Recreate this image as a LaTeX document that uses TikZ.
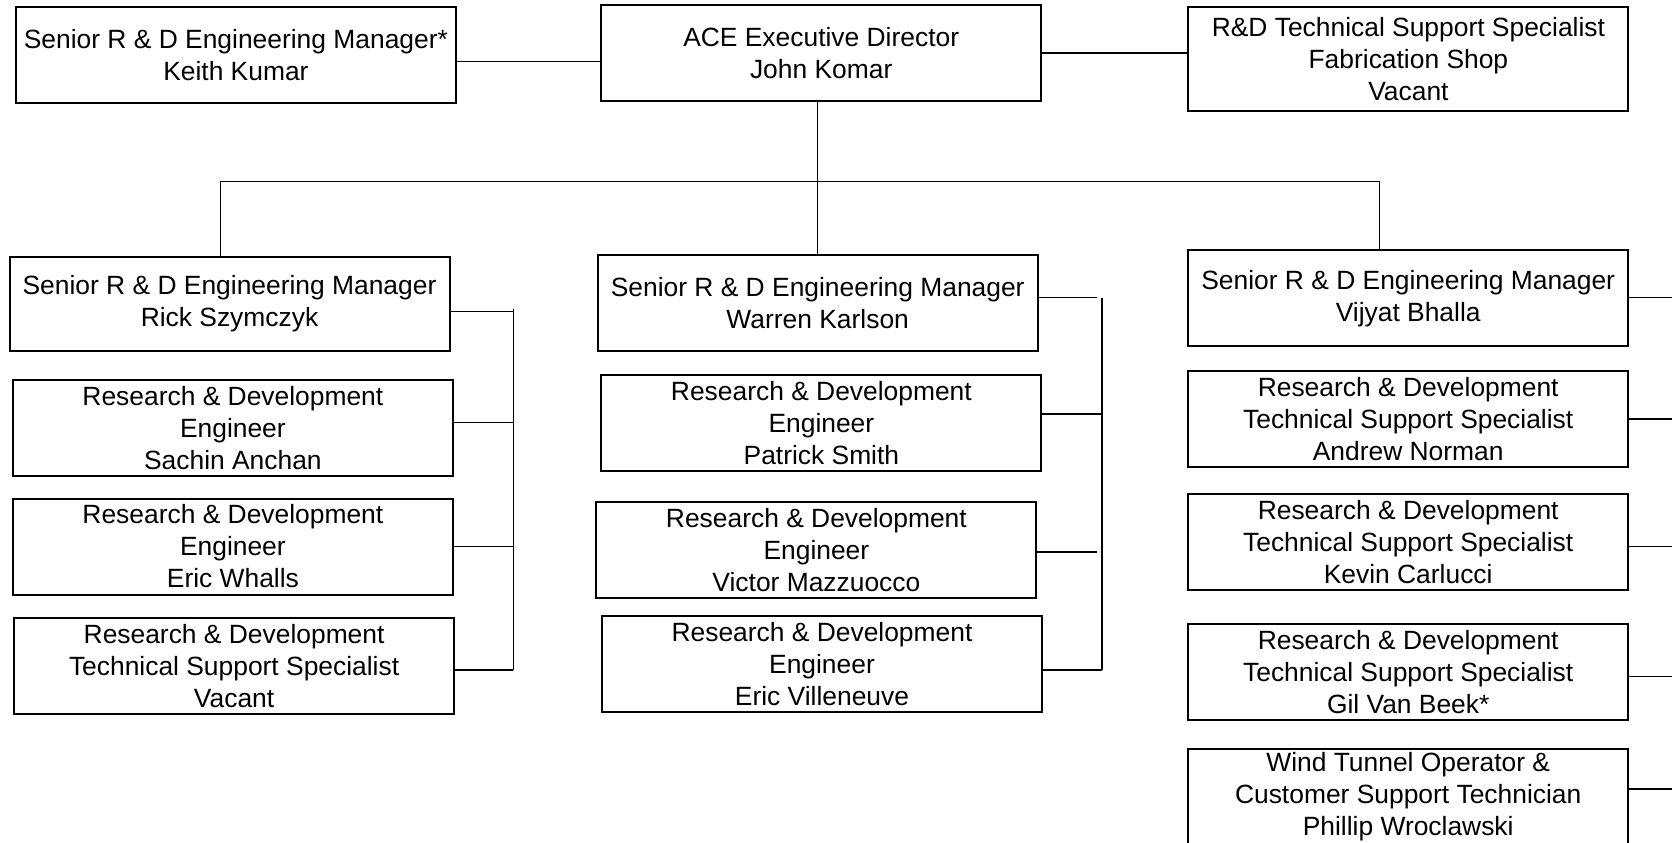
\documentclass[tikz,border=0pt]{standalone}
\usepackage{fontspec}
\setmainfont{Liberation Sans}
\begin{document}
\begin{tikzpicture}[x=0.5pt,y=-0.5pt,
  box/.style={draw, line width=1pt, align=center, inner sep=0pt,
    minimum width=220pt, minimum height=48pt,
    font=\fontsize{13.2}{16}\selectfont},
  link/.style={line width=0.7pt}]
\path[use as bounding box] (0,0) rectangle (1672,842);
\clip (0,0) rectangle (1672,842);
% top row
\node[box] (keith) at (235.9,54.7) {Senior R \& D Engineering Manager*\\Keith Kumar};
\node[box] (ace) at (821.2,53) {ACE Executive Director\\John Komar};
\node[box, minimum height=52pt] (rdtss) at (1408.4,58.7) {R\&D Technical Support Specialist\\Fabrication Shop\\Vacant};
% left column
\node[box, minimum height=47pt] (rick) at (229.5,303.8) {Senior R \& D Engineering Manager\\Rick Szymczyk};
\node[box] (sachin) at (232.9,427.7) {Research \& Development\\Engineer\\Sachin Anchan};
\node[box] (whalls) at (232.9,546.5) {Research \& Development\\Engineer\\Eric Whalls};
\node[box] (vacant) at (234.1,666.2) {Research \& Development\\Technical Support Specialist\\Vacant};
% middle column
\node[box] (warren) at (817.7,302.9) {Senior R \& D Engineering Manager\\Warren Karlson};
\node[box] (patrick) at (821.4,422.9) {Research \& Development\\Engineer\\Patrick Smith};
\node[box] (victor) at (816.4,550.2) {Research \& Development\\Engineer\\Victor Mazzuocco};
\node[box] (villeneuve) at (822,664.2) {Research \& Development\\Engineer\\Eric Villeneuve};
% right column
\node[box] (vijyat) at (1408.2,298.4) {Senior R \& D Engineering Manager\\Vijyat Bhalla};
\node[box] (andrew) at (1408.2,418.9) {Research \& Development\\Technical Support Specialist\\Andrew Norman};
\node[box] (kevin) at (1408.2,541.7) {Research \& Development\\Technical Support Specialist\\Kevin Carlucci};
\node[box] (gil) at (1408.2,672.2) {Research \& Development\\Technical Support Specialist\\Gil Van Beek*};
\node[box] (wind) at (1408.2,797) {Wind Tunnel Operator \&\\Customer Support Technician\\Phillip Wroclawski};
% top connectors
\coordinate (k1) at (0,61.7);
\draw[link] (k1 -| keith.east) -- (k1 -| ace.west);
\draw[link] (ace.east) -- (ace.east -| rdtss.west);
\coordinate (busL) at (220.7,181.7);
\coordinate (busR) at (1379.5,181.7);
\draw[link] (warren.north |- ace.south) -- (warren.north);
\draw[link] (busL |- rick.north) -- (busL) -- (busR) -- (busR |- vijyat.north);
% left trunk
\coordinate (lt) at (513.2,309.3);
\coordinate (lb) at (513.2,670);
\draw[link] (lt) -- (lb);
\coordinate (l1) at (0,311.7);
\coordinate (l2) at (0,422.3);
\coordinate (l3) at (0,546.7);
\draw[link] (l1 -| rick.east) -- (l1 -| lt);
\draw[link] (l2 -| sachin.east) -- (l2 -| lt);
\draw[link] (l3 -| whalls.east) -- (l3 -| lt);
\draw[link] (lb -| vacant.east) -- (lb);
% middle trunk
\coordinate (mt) at (1101.8,297.7);
\coordinate (mb) at (1101.8,670);
\coordinate (mw) at (1096.8,297.7);
\coordinate (mv) at (1096.8,552);
\coordinate (m2) at (0,414);
\draw[link] (mt) -- (mb);
\draw[link] (mw -| warren.east) -- (mw);
\draw[link] (m2 -| patrick.east) -- (m2 -| mt);
\draw[link] (mv -| victor.east) -- (mv);
\draw[link] (mb -| villeneuve.east) -- (mb);
% right stubs
\coordinate (r1) at (1672,297.3);
\coordinate (r2) at (1672,419);
\coordinate (r3) at (1672,546.7);
\coordinate (r4) at (1672,676.3);
\coordinate (r5) at (1672,789);
\draw[link] (r1 -| vijyat.east) -- (r1);
\draw[link] (r2 -| andrew.east) -- (r2);
\draw[link] (r3 -| kevin.east) -- (r3);
\draw[link] (r4 -| gil.east) -- (r4);
\draw[link] (r5 -| wind.east) -- (r5);
\end{tikzpicture}
\end{document}
